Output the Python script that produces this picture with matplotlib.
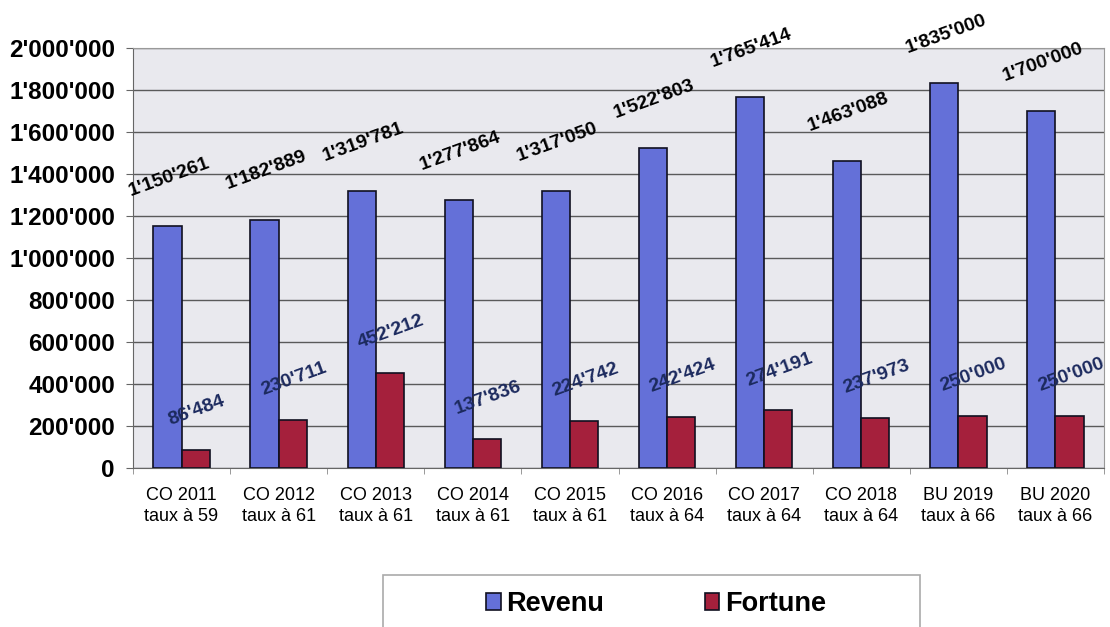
import matplotlib
matplotlib.use('Agg')
import matplotlib.pyplot as plt
import numpy as np
from matplotlib.ticker import FuncFormatter, FixedLocator
from matplotlib.patches import Rectangle

plt.rcParams['font.family'] = ['Liberation Sans', 'DejaVu Sans']

categories = ["CO 2011\ntaux à 59", "CO 2012\ntaux à 61", "CO 2013\ntaux à 61",
              "CO 2014\ntaux à 61", "CO 2015\ntaux à 61", "CO 2016\ntaux à 64",
              "CO 2017\ntaux à 64", "CO 2018\ntaux à 64", "BU 2019\ntaux à 66",
              "BU 2020\ntaux à 66"]
revenu = [1150261, 1182889, 1319781, 1277864, 1317050, 1522803, 1765414,
          1463088, 1835000, 1700000]
fortune = [86484, 230711, 452212, 137836, 224742, 242424, 274191,
           237973, 250000, 250000]


def swiss(v):
    return f"{int(v):,}".replace(",", "'")


fig = plt.figure(figsize=(11.1, 6.27), dpi=100)
ax = fig.add_axes([133 / 1110, 1 - 468 / 627, (1104 - 133) / 1110, (468 - 48) / 627])
ax.set_facecolor('#e9e9ee')

x = np.arange(len(categories))
w = 0.29
b1 = ax.bar(x - w / 2, revenu, w, color='#6470d8', edgecolor='#101020', linewidth=1.2,
            label='Revenu', zorder=3)
b2 = ax.bar(x + w / 2, fortune, w, color='#a5203c', edgecolor='#101020', linewidth=1.2,
            label='Fortune', zorder=3)

# value labels, tilted like the original
for xi, v in zip(x, revenu):
    ax.annotate(swiss(v), (xi - w / 2, v), xytext=(1, 19), textcoords='offset points',
                ha='center', va='bottom', rotation=20, fontsize=14,
                fontweight='bold', color='black', zorder=5, annotation_clip=False)
for xi, v in zip(x, fortune):
    ax.annotate(swiss(v), (xi + w / 2, v), xytext=(1, 15), textcoords='offset points',
                ha='center', va='bottom', rotation=20, fontsize=14,
                fontweight='bold', color='#1c2a5e', zorder=5, annotation_clip=False)

ax.set_xlim(-0.5, len(categories) - 0.5)
ax.set_ylim(0, 2000000)
ax.set_yticks(np.arange(0, 2000001, 200000))
ax.yaxis.set_major_formatter(FuncFormatter(lambda v, p: swiss(v)))
ax.yaxis.grid(True, color='#5a5a5a', linewidth=1.0, zorder=0)
ax.set_xticks(x)
ax.set_xticklabels(categories, fontsize=13, linespacing=1.25)
ax.xaxis.set_minor_locator(FixedLocator(np.arange(-0.5, len(categories), 1)))
ax.tick_params(axis='y', labelsize=17.5, length=5, pad=8, color='#666666')
ax.tick_params(axis='x', which='major', length=0, pad=14)
ax.tick_params(axis='x', which='minor', length=4, color='#888888')
for lab in ax.get_yticklabels():
    lab.set_fontweight('bold')
for s in ['top', 'right']:
    ax.spines[s].set_color('#999999')
ax.spines['left'].set_color('#666666')
ax.spines['bottom'].set_color('#666666')

# legend box at the bottom
fig.patches.append(Rectangle((383 / 1110, -0.05), (920 - 383) / 1110, 0.05 + 52 / 627,
                             transform=fig.transFigure, facecolor='white',
                             edgecolor='#aaaaaa', linewidth=1.2))
leg = fig.legend(handles=[b1, b2], loc='center',
                 bbox_to_anchor=(656 / 1110, 1 - 604 / 627),
                 ncol=2, frameon=False, prop={'weight': 'bold', 'size': 19.5},
                 handlelength=0.55, handleheight=0.55, handletextpad=0.2,
                 columnspacing=3.7)

fig.savefig('out.png', dpi=100)
